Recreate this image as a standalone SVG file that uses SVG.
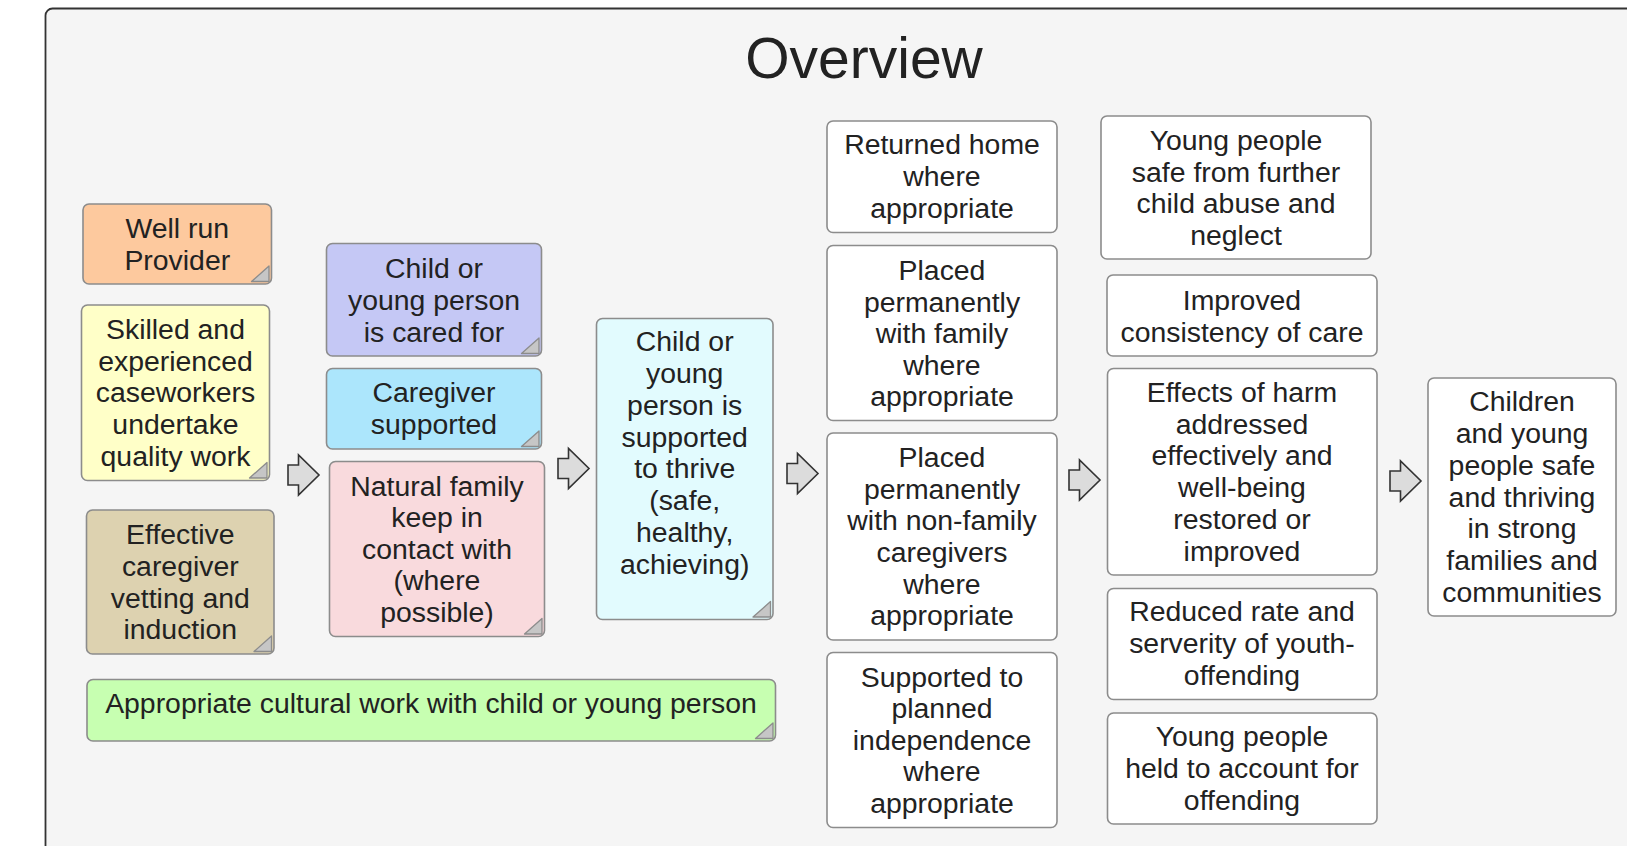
<svg xmlns="http://www.w3.org/2000/svg" width="1627" height="846" viewBox="0 0 1627 846">
<style>
.box{stroke:#8c8c8c;stroke-width:1.6}
.t{font-family:"Liberation Sans",Arial,Helvetica,sans-serif;font-size:28.4px;fill:#222;text-anchor:middle}
.title{font-family:"Liberation Sans",Arial,Helvetica,sans-serif;font-size:57px;fill:#222;text-anchor:middle}
.fold{fill:#c6c6c6;stroke:#8c8c8c;stroke-width:1.3;stroke-linejoin:round}
.arr{fill:#dcdcdc;stroke:#333;stroke-width:1.6;stroke-linejoin:miter}
.w{fill:#ffffff}
</style>
<defs>
<path id="arrow" d="M0,10 H10.5 V0 L31,20 L10.5,40 V30 H0 Z"/>
</defs>
<rect x="0" y="0" width="1627" height="846" fill="#ffffff"/>
<rect x="45.5" y="8.5" width="1640" height="880" rx="7" fill="#f5f5f5" stroke="#333" stroke-width="1.8"/>
<text class="title" x="864" y="78">Overview</text>

<g id="connectors">
<use href="#arrow" class="arr" x="288" y="455"/>
<use href="#arrow" class="arr" x="558" y="448.5"/>
<use href="#arrow" class="arr" x="787" y="453.5"/>
<use href="#arrow" class="arr" x="1069" y="460"/>
<use href="#arrow" class="arr" x="1390" y="461"/>
</g>

<g id="well-run">
<rect class="box" x="83" y="204" width="188.5" height="80" rx="6" fill="#fdc99e"/>
<path class="fold" d="M269,266 V281.5 H251.5 Z"/>
<text class="t" x="177.3" y="238">Well run</text>
<text class="t" x="177.3" y="270">Provider</text>
</g>

<g id="skilled">
<rect class="box" x="81.5" y="305" width="188" height="175.5" rx="6" fill="#ffffc8"/>
<path class="fold" d="M267,462.5 V478 H249.5 Z"/>
<text class="t" x="175.5" y="339">Skilled and</text>
<text class="t" x="175.5" y="371">experienced</text>
<text class="t" x="175.5" y="402">caseworkers</text>
<text class="t" x="175.5" y="434">undertake</text>
<text class="t" x="175.5" y="466">quality work</text>
</g>

<g id="vetting">
<rect class="box" x="86.5" y="510" width="187.5" height="144" rx="6" fill="#ddd2b0"/>
<path class="fold" d="M271.5,636 V651.5 H254 Z"/>
<text class="t" x="180.3" y="544">Effective</text>
<text class="t" x="180.3" y="576">caregiver</text>
<text class="t" x="180.3" y="608">vetting and</text>
<text class="t" x="180.3" y="639">induction</text>
</g>

<g id="cultural">
<rect class="box" x="87" y="679.5" width="688.5" height="61.5" rx="6" fill="#c7ffb1"/>
<path class="fold" d="M773,723 V738.5 H755.5 Z"/>
<text class="t" x="431" y="713">Appropriate cultural work with child or young person</text>
</g>

<g id="cared-for">
<rect class="box" x="326.5" y="243.5" width="215" height="112.5" rx="6" fill="#c5c8f5"/>
<path class="fold" d="M539,338 V353.5 H521.5 Z"/>
<text class="t" x="434" y="278">Child or</text>
<text class="t" x="434" y="310">young person</text>
<text class="t" x="434" y="342">is cared for</text>
</g>

<g id="caregiver-supported">
<rect class="box" x="326.5" y="368.5" width="215" height="80.5" rx="6" fill="#ace6fc"/>
<path class="fold" d="M539,431 V446.5 H521.5 Z"/>
<text class="t" x="434" y="402">Caregiver</text>
<text class="t" x="434" y="434">supported</text>
</g>

<g id="natural-family">
<rect class="box" x="329.5" y="461.5" width="215" height="175" rx="6" fill="#f9dadd"/>
<path class="fold" d="M542,618.5 V634 H524.5 Z"/>
<text class="t" x="437" y="496">Natural family</text>
<text class="t" x="437" y="527">keep in</text>
<text class="t" x="437" y="559">contact with</text>
<text class="t" x="437" y="590">(where</text>
<text class="t" x="437" y="622">possible)</text>
</g>

<g id="thrive">
<rect class="box" x="596.5" y="318.5" width="176.5" height="301" rx="6" fill="#e2fbfe"/>
<path class="fold" d="M770.5,601.5 V617 H753 Z"/>
<text class="t" x="684.7" y="351">Child or</text>
<text class="t" x="684.7" y="383">young</text>
<text class="t" x="684.7" y="415">person is</text>
<text class="t" x="684.7" y="447">supported</text>
<text class="t" x="684.7" y="478">to thrive</text>
<text class="t" x="684.7" y="510">(safe,</text>
<text class="t" x="684.7" y="542">healthy,</text>
<text class="t" x="684.7" y="574">achieving)</text>
</g>

<g id="returned-home">
<rect class="box w" x="827" y="121" width="230" height="111.5" rx="6"/>
<text class="t" x="942" y="154">Returned home</text>
<text class="t" x="942" y="186">where</text>
<text class="t" x="942" y="218">appropriate</text>
</g>

<g id="placed-family">
<rect class="box w" x="827" y="245.5" width="230" height="175" rx="6"/>
<text class="t" x="942" y="280">Placed</text>
<text class="t" x="942" y="312">permanently</text>
<text class="t" x="942" y="343">with family</text>
<text class="t" x="942" y="375">where</text>
<text class="t" x="942" y="406">appropriate</text>
</g>

<g id="placed-nonfamily">
<rect class="box w" x="827" y="433" width="230" height="207" rx="6"/>
<text class="t" x="942" y="467">Placed</text>
<text class="t" x="942" y="499">permanently</text>
<text class="t" x="942" y="530">with non-family</text>
<text class="t" x="942" y="562">caregivers</text>
<text class="t" x="942" y="594">where</text>
<text class="t" x="942" y="625">appropriate</text>
</g>

<g id="independence">
<rect class="box w" x="827" y="652.5" width="230" height="175" rx="6"/>
<text class="t" x="942" y="687">Supported to</text>
<text class="t" x="942" y="718">planned</text>
<text class="t" x="942" y="750">independence</text>
<text class="t" x="942" y="781">where</text>
<text class="t" x="942" y="813">appropriate</text>
</g>

<g id="safe-from-abuse">
<rect class="box w" x="1101" y="116" width="270" height="143" rx="6"/>
<text class="t" x="1236" y="150">Young people</text>
<text class="t" x="1236" y="182">safe from further</text>
<text class="t" x="1236" y="213">child abuse and</text>
<text class="t" x="1236" y="245">neglect</text>
</g>

<g id="consistency">
<rect class="box w" x="1107" y="275" width="270" height="81" rx="6"/>
<text class="t" x="1242" y="310">Improved</text>
<text class="t" x="1242" y="342">consistency of care</text>
</g>

<g id="effects-of-harm">
<rect class="box w" x="1107.5" y="368.5" width="269.5" height="206.5" rx="6"/>
<text class="t" x="1242" y="402">Effects of harm</text>
<text class="t" x="1242" y="434">addressed</text>
<text class="t" x="1242" y="465">effectively and</text>
<text class="t" x="1242" y="497">well-being</text>
<text class="t" x="1242" y="529">restored or</text>
<text class="t" x="1242" y="561">improved</text>
</g>

<g id="youth-offending">
<rect class="box w" x="1107.5" y="588.5" width="269.5" height="111" rx="6"/>
<text class="t" x="1242" y="621">Reduced rate and</text>
<text class="t" x="1242" y="653">serverity of youth-</text>
<text class="t" x="1242" y="685">offending</text>
</g>

<g id="held-to-account">
<rect class="box w" x="1107.5" y="713" width="269.5" height="111" rx="6"/>
<text class="t" x="1242" y="746">Young people</text>
<text class="t" x="1242" y="778">held to account for</text>
<text class="t" x="1242" y="810">offending</text>
</g>

<g id="outcome">
<rect class="box w" x="1428" y="378" width="188" height="238" rx="6"/>
<text class="t" x="1522" y="411">Children</text>
<text class="t" x="1522" y="443">and young</text>
<text class="t" x="1522" y="475">people safe</text>
<text class="t" x="1522" y="507">and thriving</text>
<text class="t" x="1522" y="538">in strong</text>
<text class="t" x="1522" y="570">families and</text>
<text class="t" x="1522" y="602">communities</text>
</g>
</svg>
